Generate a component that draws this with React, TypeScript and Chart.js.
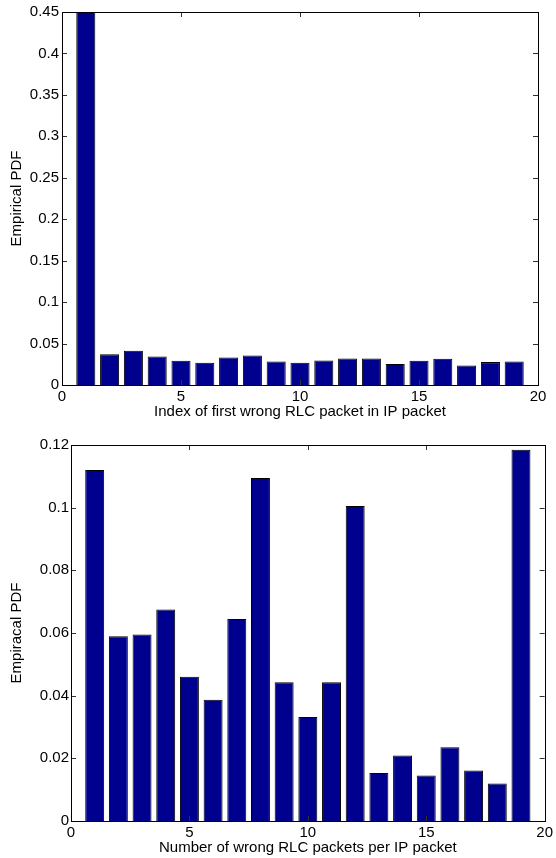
import React, { useEffect, useRef } from "react";
import { Chart, registerables } from "chart.js";

Chart.register(...registerables);

// ---- data ----
const packetIndex = [1, 2, 3, 4, 5, 6, 7, 8, 9, 10, 11, 12, 13, 14, 15, 16, 17, 18, 19];
const firstWrongPdf = [
  0.46, 0.0372, 0.0412, 0.0344, 0.0292, 0.0268, 0.0332, 0.0356, 0.0284, 0.0268,
  0.0296, 0.032, 0.032, 0.0252, 0.0292, 0.0316, 0.0236, 0.0276, 0.0284,
];
const wrongCountPdf = [
  0.112, 0.059, 0.0595, 0.0675, 0.046, 0.0387, 0.0645, 0.1095, 0.0443, 0.0332,
  0.0443, 0.1005, 0.0153, 0.0209, 0.0145, 0.0235, 0.0161, 0.012, 0.1185,
];
const topTitleX = "Index of first wrong RLC packet in IP packet";
const topTitleY = "Empirical PDF";
const bottomTitleX = "Number of wrong RLC packets per IP packet";
const bottomTitleY = "Empiracal PDF";
const xTickRange = [0, 20, 5];
const topYRange = [0, 0.45, 0.05];
const bottomYRange = [0, 0.12, 0.02];

const FONT = "'Liberation Sans', Arial, Helvetica, sans-serif";
const FONT_SIZE = 15;
const BAR_COLOR = "#00008F";

const boxTicks = {
  id: "boxTicks",
  afterDraw(chart: any) {
    const { ctx, chartArea } = chart;
    const { left, right, top, bottom } = chartArea;
    const x = chart.scales.x;
    const y = chart.scales.y;
    const L = 5;
    ctx.save();
    ctx.lineWidth = 1;
    ctx.strokeStyle = "#333";
    ctx.beginPath();
    x.ticks.forEach((t: any) => {
      const px = Math.round(x.getPixelForValue(t.value)) + 0.5;
      ctx.moveTo(px, bottom);
      ctx.lineTo(px, bottom - L);
      ctx.moveTo(px, top);
      ctx.lineTo(px, top + L);
    });
    y.ticks.forEach((t: any) => {
      const py = Math.round(y.getPixelForValue(t.value)) + 0.5;
      ctx.moveTo(left, py);
      ctx.lineTo(left + L, py);
      ctx.moveTo(right, py);
      ctx.lineTo(right - L, py);
    });
    ctx.stroke();
    ctx.strokeStyle = "#000";
    ctx.strokeRect(
      Math.round(left) + 0.5,
      Math.round(top) + 0.5,
      Math.round(right - left),
      Math.round(bottom - top)
    );
    ctx.restore();
  },
};

type PanelProps = {
  values: number[];
  yRange: number[];
  titleX: string;
  titleY: string;
  yWidth: number;
  xHeight: number;
  padTop: number;
  padRight: number;
  yTickPad: number;
  xTitlePadBottom: number;
};

function Panel(p: PanelProps) {
  const ref = useRef<HTMLCanvasElement | null>(null);
  useEffect(() => {
    if (!ref.current) return;
    const fmt = (v: any) => String(+Number(v).toFixed(4));
    const font = { family: FONT, size: FONT_SIZE };
    const chart = new Chart(ref.current, {
      type: "bar",
      data: {
        datasets: [
          {
            data: p.values.map((v, i) => ({ x: packetIndex[i], y: v })),
            backgroundColor: BAR_COLOR,
            borderColor: "#000",
            borderWidth: 1,
            barPercentage: 0.8,
            categoryPercentage: 1,
          },
        ],
      },
      options: {
        animation: false,
        responsive: false,
        maintainAspectRatio: false,
        layout: { padding: { top: p.padTop, right: p.padRight, left: 0, bottom: 0 } },
        plugins: { legend: { display: false }, tooltip: { enabled: false } },
        scales: {
          x: {
            type: "linear",
            min: xTickRange[0],
            max: xTickRange[1],
            offset: false,
            grid: { display: false, drawTicks: false, offset: false },
            border: { display: false },
            ticks: {
              stepSize: xTickRange[2],
              color: "#000",
              padding: 3,
              font,
              maxRotation: 0,
              callback: fmt,
            },
            title: {
              display: true,
              text: p.titleX,
              color: "#000",
              font,
              padding: { top: 0, bottom: p.xTitlePadBottom },
            },
            afterFit: (s: any) => {
              s.height = p.xHeight;
            },
          },
          y: {
            type: "linear",
            min: p.yRange[0],
            max: p.yRange[1],
            grid: { display: false, drawTicks: false },
            border: { display: false },
            ticks: {
              stepSize: p.yRange[2],
              color: "#000",
              padding: p.yTickPad,
              font,
              callback: fmt,
            },
            title: {
              display: true,
              text: p.titleY,
              color: "#000",
              font,
              padding: { top: 8, bottom: 0 },
            },
            afterFit: (s: any) => {
              s.width = p.yWidth;
            },
          },
        },
      },
      plugins: [boxTicks],
    } as any);
    return () => chart.destroy();
  }, []);
  return (
    <canvas
      ref={ref}
      width={556}
      height={429}
      style={{ display: "block", width: 556, height: 429 }}
    />
  );
}

export default function App() {
  return (
    <div
      style={{
        position: "absolute",
        left: 0,
        top: 0,
        width: 556,
        height: 858,
        background: "#fff",
      }}
    >
      <Panel
        values={firstWrongPdf}
        yRange={topYRange}
        titleX={topTitleX}
        titleY={topTitleY}
        yWidth={62}
        xHeight={44}
        padTop={10}
        padRight={18}
        yTickPad={3}
        xTitlePadBottom={8}
      />
      <Panel
        values={wrongCountPdf}
        yRange={bottomYRange}
        titleX={bottomTitleX}
        titleY={bottomTitleY}
        yWidth={71}
        xHeight={37}
        padTop={16}
        padRight={11}
        yTickPad={2}
        xTitlePadBottom={1}
      />
    </div>
  );
}
